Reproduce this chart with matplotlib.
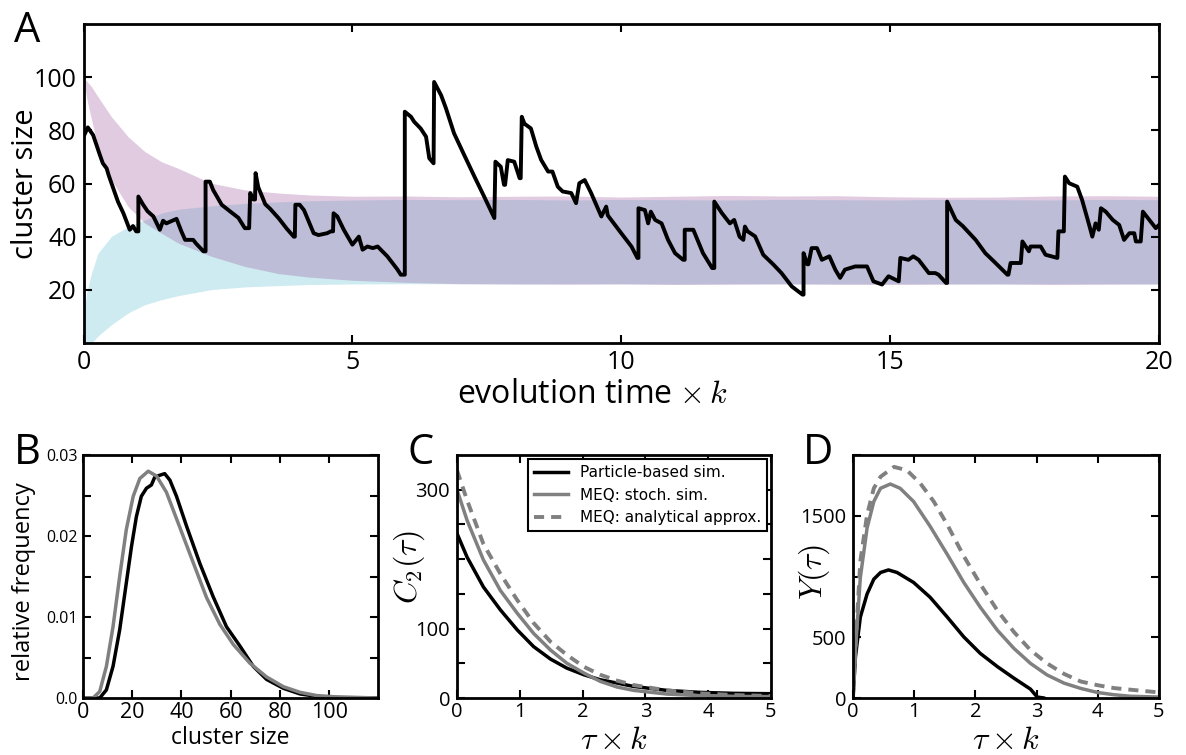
import matplotlib
matplotlib.use('Agg')
import matplotlib.pyplot as plt

plt.rcParams['font.family'] = ['Open Sans', 'DejaVu Sans']
plt.rcParams['mathtext.fontset'] = 'cm'

# ---- panel A: single trajectory + mean/std bands ----
traj_t = [0.0, 0.08, 0.18, 0.30, 0.36, 0.43, 0.47, 0.52, 0.64, 0.74, 0.86, 0.92, 0.98, 1.02, 1.02, 1.11,
          1.19, 1.30, 1.42, 1.48, 1.54, 1.73, 1.82, 1.89, 2.04, 2.09, 2.23, 2.27, 2.27, 2.35, 2.41, 2.57,
          2.72, 2.88, 3.0, 3.08, 3.10, 3.16, 3.19, 3.20, 3.25, 3.38, 3.47, 3.63, 3.78, 3.91, 3.93, 3.94,
          4.02, 4.10, 4.28, 4.37, 4.53, 4.60, 4.64, 4.65, 4.72, 4.84, 5.0, 5.12, 5.19, 5.28, 5.38, 5.47,
          5.65, 5.84, 5.90, 5.975, 5.975, 6.09, 6.15, 6.27, 6.37, 6.43, 6.51, 6.52, 6.65, 6.74, 6.89, 7.08,
          7.27, 7.45, 7.64, 7.66, 7.76, 7.82, 7.84, 7.89, 8.01, 8.11, 8.13, 8.15, 8.20, 8.32, 8.42, 8.51,
          8.64, 8.72, 8.82, 8.91, 9.07, 9.16, 9.22, 9.32, 9.44, 9.63, 9.72, 9.75, 10.0, 10.19, 10.30, 10.32,
          10.32, 10.44, 10.50, 10.55, 10.63, 10.75, 10.87, 11.0, 11.15, 11.18, 11.18, 11.34, 11.43, 11.52,
          11.69, 11.73, 11.73, 11.87, 12.02, 12.10, 12.20, 12.27, 12.30, 12.35, 12.49, 12.64, 12.83, 12.98,
          13.17, 13.37, 13.39, 13.39, 13.46, 13.48, 13.54, 13.64, 13.73, 13.87, 13.98, 14.07, 14.16, 14.35,
          14.57, 14.69, 14.85, 14.97, 15.16, 15.19, 15.34, 15.43, 15.53, 15.72, 15.84, 15.90, 16.04, 16.06,
          16.06, 16.22, 16.35, 16.59, 16.77, 16.96, 17.18, 17.20, 17.24, 17.43, 17.46, 17.58, 17.61, 17.80,
          17.89, 18.11, 18.13, 18.23, 18.25, 18.33, 18.48, 18.57, 18.70, 18.76, 18.82, 18.88, 18.92, 19.01,
          19.14, 19.26, 19.35, 19.45, 19.54, 19.57, 19.66, 19.70, 19.82, 19.94, 20.0]
traj_v = [77.6, 81.1, 78.2, 71, 67.6, 65.7, 63, 60.1, 53.2, 48.9, 42.6, 44, 42, 42, 55.1, 52,
          49.6, 47.6, 42.6, 46, 45, 46.7, 42, 38.8, 38.8, 37.5, 34.5, 34.5, 60.7, 60.7, 57.6, 52,
          49.6, 47.1, 43.2, 43.2, 56.4, 54, 54, 63.9, 58.6, 52.2, 50.5, 46.9, 43, 40, 40, 52,
          52, 50, 41.3, 40.6, 41.3, 42, 42, 48.8, 47.6, 42.6, 37, 40, 35.1, 36.3, 35.7, 36.3,
          32.6, 27.6, 25.7, 25.7, 87, 85.1, 83.2, 80.7, 77.6, 69.5, 67.6, 98.2, 93.2, 88.3, 78.9, 70.7,
          62.6, 55.1, 47, 68.2, 66.3, 59.5, 59.5, 68.8, 68.2, 62, 62, 85.1, 82.5, 80.7, 73.9, 68.9,
          64.5, 64.5, 58.8, 57, 56.4, 52.6, 60.1, 61.3, 56.4, 47.6, 51.3, 48, 41.3, 36.3, 32, 32,
          50.7, 50, 45, 49.4, 46.3, 45, 38.8, 33.8, 31.3, 31.3, 42.6, 42.6, 38.2, 33.8,
          28.2, 28.2, 53.2, 48.9, 45, 46.3, 40, 38.8, 43.8, 42, 40.1, 33.2, 29.5, 26.3,
          21.3, 18.2, 18.2, 33.8, 29.6, 29.6, 35.7, 35.7, 31.3, 32.6, 27.6, 24.5, 27.6, 28.8,
          28.8, 23.2, 22, 25.1, 23.2, 32, 31.3, 32.6, 31.3, 26.3, 26.3, 25.7, 22.6, 22.6,
          53.2, 46.3, 44, 38.8, 33.8, 30.1, 25.7, 25.7, 30.1, 30.1, 38.2, 34.5, 36.3, 36.3,
          33.2, 32, 42, 42, 62.6, 60.1, 58.8, 53.8, 44.5, 40, 45, 42.6, 50.7, 49.4,
          46.3, 44.4, 38.8, 41.3, 41.3, 38.2, 38.2, 49.4, 46.3, 43.2, 44.4]

band_t = [0, 0.06, 0.15, 0.27, 0.52, 0.83, 1.14, 1.45, 1.76, 2.38, 3.0, 3.63, 4.19, 5, 6, 7, 8, 9, 10,
          11, 12, 13, 14, 15, 16, 17, 18, 19, 20]
pink_hi = [100, 98.5, 96.4, 92.6, 85.1, 77.6, 72, 68.2, 65.7, 60.1, 57.6, 56.4, 55.7, 55.2, 55.3, 55.0,
           55.2, 55.3, 54.9, 55.2, 55.5, 55.3, 55.4, 55.0, 54.8, 54.9, 55.3, 55.4, 55.2]
pink_lo = [100, 92, 83.9, 73.9, 61.4, 51.3, 45.1, 41.3, 37.6, 32.6, 28.8, 26.1, 24.8, 23.6, 22.8, 22.3,
           22.2, 22.1, 22.2, 22.0, 22.1, 22.2, 22.1, 22.0, 22.1, 22.2, 22.0, 22.1, 22.2]
cyan_hi = [10, 19, 26.4, 33.8, 40.1, 43.8, 46.3, 48.9, 50.3, 51.6, 52.5, 53.1, 53.5, 53.8, 54.0, 53.9,
           54.0, 53.8, 54.0, 53.9, 53.8, 54.0, 53.9, 53.8, 54.0, 53.9, 53.8, 54.0, 53.9]
cyan_lo = [-2, -1, 0, 2.6, 6.9, 11.3, 14.4, 16.3, 17.8, 20.1, 21.1, 21.6, 22.0, 22.2, 22.3, 22.3,
           22.2, 22.3, 22.3, 22.2, 22.3, 22.3, 22.2, 22.3, 22.3, 22.2, 22.3, 22.3, 22.2]

# ---- panel B: stationary distribution ----
distB_x_pb = [0, 6.8, 9.5, 12.2, 14.9, 17.6, 19.7, 21.7, 23.7, 25.8, 27.8, 29.2, 31.2, 33.2, 35.3, 38,
              42.1, 47.5, 52.9, 58.3, 63.8, 69.2, 74.6, 81.4, 88.2, 95, 101.8, 120]
distB_y_pb = [0, 0, 0.001, 0.0039, 0.0084, 0.0142, 0.0187, 0.0224, 0.0249, 0.0259, 0.0263, 0.0273,
              0.0275, 0.0277, 0.0269, 0.0249, 0.0212, 0.0166, 0.0125, 0.0088, 0.0064, 0.0039, 0.0023,
              0.0012, 0.0005, 0.0002, 0.00004, 0]
distB_x_meq = [0, 4.1, 6.8, 9.5, 12.2, 14.9, 17.6, 20.4, 23.1, 26.5, 29.9, 33.9, 39.3, 44.8, 50.2,
               55.6, 61.1, 67.8, 74.6, 81.4, 88.2, 95, 101.8, 119.4]
distB_y_meq = [0, 0, 0.0008, 0.0039, 0.0088, 0.015, 0.0208, 0.0249, 0.0271, 0.028, 0.0274, 0.0254,
               0.0211, 0.0167, 0.0124, 0.0091, 0.0066, 0.0043, 0.0026, 0.0014, 0.0007, 0.0003,
               0.00016, 0]

# ---- panel C: autocorrelation C2(tau) ----
tauC = [0, 0.16, 0.42, 0.69, 0.96, 1.22, 1.49, 1.75, 2.02, 2.28, 2.55, 2.81, 3.34, 3.87, 4.41, 5.0]
C2_pb = [237, 203, 160, 127, 98, 74, 56, 43, 33.5, 26.3, 21.5, 16.7, 11, 8.1, 6.7, 6.2]
C2_meq = [300, 256, 199, 155, 122, 93, 69, 50, 36, 24, 15.8, 11, 5.7, 3.3, 2.4, 2]
C2_approx = [328, 285, 222, 179, 141, 108, 81, 62, 45, 33.5, 25, 18.7, 11, 6.7, 4.3, 2.9]

# ---- panel D: Y(tau) ----
tauD = [0, 0.04, 0.12, 0.23, 0.34, 0.45, 0.61, 0.77, 0.99, 1.26, 1.54, 1.81, 2.08, 2.36, 2.63, 2.9,
        3.17, 3.45, 3.72, 3.99, 4.26, 4.54, 5.0]
Y_meq = [0, 394, 992, 1399, 1617, 1726, 1761, 1726, 1617, 1413, 1182, 951, 747, 557, 408, 285,
         190, 122, 79, 46, 27, 14, 8]
tauD_approx = [0, 0.04, 0.12, 0.23, 0.34, 0.45, 0.67, 0.88, 1.1, 1.32, 1.54, 1.81, 2.08, 2.36, 2.63,
               2.9, 3.17, 3.45, 3.72, 3.99, 4.26, 4.54, 5.0]
Y_approx = [0, 420, 1128, 1508, 1726, 1821, 1902, 1875, 1766, 1617, 1427, 1168, 938, 720, 543,
            394, 285, 198, 136, 106, 82, 68, 46]
tauD_pb = [0, 0.04, 0.12, 0.23, 0.34, 0.45, 0.58, 0.72, 0.99, 1.26, 1.54, 1.81, 2.08, 2.36, 2.63,
           2.9, 3.01, 3.12, 3.3]
Y_pb = [0, 340, 666, 856, 978, 1033, 1054, 1033, 951, 829, 666, 503, 367, 258, 163, 73, 8, 0, -40]

gray = '#808080'
dash = (0, (2.6, 1.8))

fig = plt.figure(figsize=(11.86, 7.55), dpi=100)
W, H = 1186.0, 755.0


def box(l, t, r, b):
    return [l / W, 1 - b / H, (r - l) / W, (b - t) / H]


def style(ax, ls):
    for s in ax.spines.values():
        s.set_linewidth(2)
    ax.tick_params(direction='in', length=6, width=1.5, top=True, right=True,
                   labelsize=ls, pad=5)


axA = fig.add_axes(box(83.5, 24, 1159, 343))
axA.fill_between(band_t, cyan_lo, cyan_hi, color=(0.36, 0.75, 0.81), alpha=0.3, lw=0)
axA.fill_between(band_t, pink_lo, pink_hi, color=(0.60, 0.33, 0.62), alpha=0.3, lw=0)
axA.plot(traj_t, traj_v, color='black', lw=2.8)
axA.set_xlim(0, 20)
axA.set_ylim(0, 120)
axA.set_xticks([0, 5, 10, 15, 20])
axA.set_yticks([20, 40, 60, 80, 100])
style(axA, 18)
axA.set_xlabel(r'evolution time $\times\, k$', fontsize=23)
axA.set_ylabel('cluster size', fontsize=21)
axA.xaxis.set_label_coords(0.473, -0.11)
axA.yaxis.set_label_coords(-0.04, 0.5)

axB = fig.add_axes(box(83, 455, 378.3, 698))
axB.plot(distB_x_pb, distB_y_pb, color='black', lw=2.5)
axB.plot(distB_x_meq, distB_y_meq, color=gray, lw=2.5)
axB.set_xlim(0, 120)
axB.set_ylim(0, 0.03)
axB.set_xticks([0, 20, 40, 60, 80, 100])
axB.set_yticks([0, 0.005, 0.01, 0.015, 0.02, 0.025, 0.03])
axB.set_yticklabels(['0.0', '', '0.01', '', '0.02', '', '0.03'])
style(axB, 15.5)
axB.tick_params(axis='x', pad=3)
axB.tick_params(axis='y', labelsize=11.5, pad=4)
axB.set_xlabel('cluster size', fontsize=16.5)
axB.set_ylabel('relative frequency', fontsize=17)
axB.xaxis.set_label_coords(0.5, -0.115)
axB.yaxis.set_label_coords(-0.16, 0.48)

axC = fig.add_axes(box(457, 455, 771, 698))
axC.plot(tauC, C2_pb, color='black', lw=2.5, label='Particle-based sim.')
axC.plot(tauC, C2_meq, color=gray, lw=2.5, label='MEQ: stoch. sim.')
axC.plot(tauC, C2_approx, color=gray, lw=2.8, ls=dash, label='MEQ: analytical approx.')
axC.set_xlim(0, 5)
axC.set_ylim(0, 350)
axC.set_xticks([0, 1, 2, 3, 4, 5])
axC.set_yticks([0, 50, 100, 150, 200, 250, 300])
axC.set_yticklabels(['0', '', '100', '', '', '', '300'])
style(axC, 14.5)
axC.tick_params(axis='x', pad=3)
axC.set_xlabel(r'$\tau\times k$', fontsize=23)
axC.set_ylabel(r'$C_2(\tau)$', fontsize=23)
axC.xaxis.set_label_coords(0.5, -0.105)
axC.yaxis.set_label_coords(-0.095, 0.54)
leg = axC.legend(loc='upper right', fancybox=False, framealpha=1, edgecolor='black',
                 prop={'family': 'DejaVu Sans', 'size': 11}, borderaxespad=0.25,
                 handlelength=2.2, labelspacing=0.5, borderpad=0.4)
leg.get_frame().set_linewidth(1.5)

axD = fig.add_axes(box(853, 455, 1159, 698))
axD.plot(tauD_pb, Y_pb, color='black', lw=2.5)
axD.plot(tauD, Y_meq, color=gray, lw=2.5)
axD.plot(tauD_approx, Y_approx, color=gray, lw=2.8, ls=dash)
axD.set_xlim(0, 5)
axD.set_ylim(0, 2000)
axD.set_xticks([0, 1, 2, 3, 4, 5])
axD.set_yticks([0, 500, 1000, 1500, 2000])
axD.set_yticklabels(['0', '500', '', '1500', ''])
style(axD, 14.5)
axD.tick_params(axis='x', pad=3)
axD.set_xlabel(r'$\tau\times k$', fontsize=23)
axD.set_ylabel(r'$Y(\tau)$', fontsize=23)
axD.xaxis.set_label_coords(0.5, -0.105)
axD.yaxis.set_label_coords(-0.07, 0.52)

for lab, px, py in [('A', 14, 42), ('B', 14, 464), ('C', 408, 464), ('D', 803, 464)]:
    fig.text(px / W, 1 - py / H, lab, fontsize=30, va='baseline', ha='left')

fig.savefig('out.png', dpi=100)
